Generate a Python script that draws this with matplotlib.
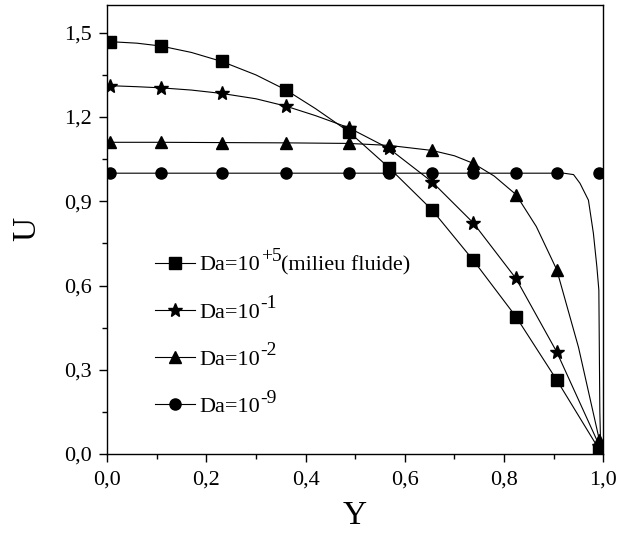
import numpy as np
import matplotlib
matplotlib.use("Agg")
import matplotlib.pyplot as plt
from matplotlib.ticker import MultipleLocator, FuncFormatter

plt.rcParams['font.family'] = ['Liberation Serif', 'DejaVu Serif']

# marker positions
y_mark = [0.007, 0.108, 0.231, 0.360, 0.487, 0.568, 0.655, 0.738, 0.824, 0.906, 0.992]
u_sq_mark = [1.468, 1.453, 1.398, 1.297, 1.148, 1.020, 0.869, 0.690, 0.489, 0.264, 0.015]
u_st_mark = [1.311, 1.304, 1.284, 1.239, 1.162, 1.088, 0.969, 0.823, 0.625, 0.364, 0.030]
u_tr_mark = [1.110, 1.110, 1.109, 1.108, 1.106, 1.099, 1.081, 1.035, 0.924, 0.657, 0.050]
u_ci_mark = [1.000, 1.000, 1.000, 1.000, 1.000, 1.000, 1.000, 1.000, 1.000, 1.000, 1.000]

# curves (denser where they bend)
y_sq = [0.0, 0.06, 0.108, 0.17, 0.231, 0.30, 0.360, 0.42, 0.487, 0.568, 0.655, 0.738, 0.824, 0.906, 0.992]
u_sq = [1.469, 1.463, 1.453, 1.430, 1.398, 1.350, 1.297, 1.230, 1.148, 1.020, 0.869, 0.690, 0.489, 0.264, 0.015]
y_st = [0.0, 0.06, 0.108, 0.17, 0.231, 0.30, 0.360, 0.42, 0.487, 0.568, 0.655, 0.738, 0.824, 0.906, 0.992]
u_st = [1.312, 1.308, 1.304, 1.296, 1.284, 1.265, 1.239, 1.205, 1.162, 1.088, 0.969, 0.823, 0.625, 0.364, 0.030]
y_tr = [0.0, 0.108, 0.231, 0.360, 0.487, 0.568, 0.655, 0.700, 0.738, 0.780, 0.824, 0.865, 0.906, 0.950, 0.992]
u_tr = [1.110, 1.110, 1.109, 1.108, 1.106, 1.099, 1.081, 1.062, 1.035, 0.990, 0.924, 0.810, 0.657, 0.380, 0.050]
y_ci = [0.0, 0.5, 0.92, 0.94, 0.953, 0.970, 0.980, 0.987, 0.991, 0.993, 0.995]
u_ci = [1.000, 1.000, 1.000, 0.995, 0.964, 0.904, 0.786, 0.667, 0.584, 0.150, 0.000]

labels = ['Da=10', 'Da=10', 'Da=10', 'Da=10']
exponents = ['+5', '-1', '-2', '-9']
suffixes = ['(milieu fluide)', '', '', '']

fig = plt.figure(figsize=(6.34, 5.34), dpi=100)
ax = fig.add_axes([0.1688, 0.1498, 0.7828, 0.8414])

series = [(y_sq, u_sq, u_sq_mark, 's', 8), (y_st, u_st, u_st_mark, '*', 10),
          (y_tr, u_tr, u_tr_mark, '^', 9), (y_ci, u_ci, u_ci_mark, 'o', 8)]
handles = []
for yc, uc, um, mk, ms in series:
    ax.plot(yc, uc, color='black', lw=0.8)
    ax.plot(y_mark, um, ls='none', marker=mk, ms=ms, color='black')
    h, = ax.plot([], [], color='black', lw=0.8, marker=mk, ms=ms)
    handles.append(h)

ax.set_xlim(0, 1.0)
ax.set_ylim(0, 1.6)
ax.xaxis.set_major_locator(MultipleLocator(0.2))
ax.xaxis.set_minor_locator(MultipleLocator(0.1))
ax.yaxis.set_major_locator(MultipleLocator(0.3))
ax.yaxis.set_minor_locator(MultipleLocator(0.15))
fmt = FuncFormatter(lambda v, p: f"{v:.1f}".replace('.', ','))
ax.xaxis.set_major_formatter(fmt)
ax.yaxis.set_major_formatter(fmt)
ax.tick_params(which='major', direction='out', length=6, width=1, labelsize=16)
ax.tick_params(axis='x', which='major', pad=6)
ax.tick_params(axis='y', which='major', pad=5)
ax.tick_params(which='minor', direction='out', length=3.5, width=1)
ax.tick_params(top=False, right=False)
for s in ax.spines.values():
    s.set_linewidth(1.0)

ax.set_xlabel('Y', fontsize=24, labelpad=8)
ax.set_ylabel('U', fontsize=24, labelpad=16)

leg = ax.legend(handles, labels, loc='upper left', bbox_to_anchor=(0.075, 0.468),
                frameon=False, fontsize=16, handlelength=1.8, handletextpad=0.2,
                labelspacing=1.2, borderpad=0)

# raised exponents at near full size, placed after the legend is laid out
fig.canvas.draw()
for t, ex, suf in zip(leg.get_texts(), exponents, suffixes):
    bb = t.get_window_extent()
    sup = ax.annotate(ex, xy=(bb.x1, bb.y0), xycoords='figure pixels', xytext=(0, 7.5),
                      textcoords='offset points', fontsize=14, va='bottom', ha='left')
    if suf:
        fig.canvas.draw()
        sb = sup.get_window_extent()
        ax.annotate(suf, xy=(sb.x1, bb.y0), xycoords='figure pixels',
                    fontsize=16, va='bottom', ha='left')

fig.savefig('out.png', dpi=100)
